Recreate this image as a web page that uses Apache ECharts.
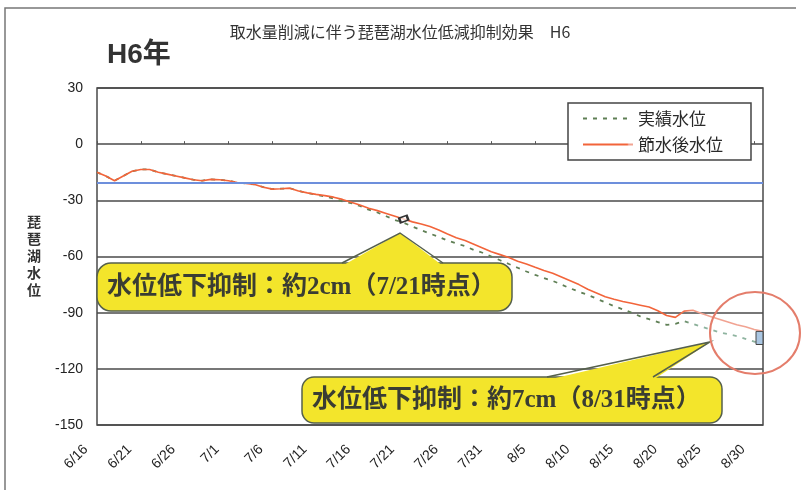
<!DOCTYPE html>
<html>
<head>
<meta charset="utf-8">
<script src="https://cdn.jsdelivr.net/npm/echarts@6/dist/echarts.min.js"></script>
<style>
  html, body { margin: 0; padding: 0; background: #fff; }
  #chart { width: 801px; height: 490px; }
</style>
</head>
<body>
<div id="chart"></div>
<script>
// Daily dates, 6/16 to 8/31 (H6)
const dates = [
  '6/16','6/17','6/18','6/19','6/20','6/21','6/22','6/23','6/24','6/25','6/26','6/27','6/28','6/29','6/30',
  '7/1','7/2','7/3','7/4','7/5','7/6','7/7','7/8','7/9','7/10','7/11','7/12','7/13','7/14','7/15','7/16',
  '7/17','7/18','7/19','7/20','7/21','7/22','7/23','7/24','7/25','7/26','7/27','7/28','7/29','7/30','7/31',
  '8/1','8/2','8/3','8/4','8/5','8/6','8/7','8/8','8/9','8/10','8/11','8/12','8/13','8/14','8/15','8/16',
  '8/17','8/18','8/19','8/20','8/21','8/22','8/23','8/24','8/25','8/26','8/27','8/28','8/29','8/30','8/31'
];

// 実績水位 (cm)
const actualLevel = [
  -15, -17, -19.5, -17, -14.5, -13.5, -13.5, -15, -16, -17,
  -18, -19, -19.5, -18.8, -19, -19.5, -20.5, -21, -21.5, -23,
  -24, -23.8, -23.5, -25, -26, -27, -28, -29, -30.5, -31.5,
  -33, -35, -36.5, -38.5, -40.5, -42, -44, -46, -47.8, -49.5,
  -51.5, -53, -54.5, -56.5, -58, -60, -62, -64, -66, -68,
  -69.8, -71.5, -73, -75, -77, -78.8, -80.5, -82.5, -84.5, -86.5,
  -88.2, -90, -92, -93.5, -95, -96.5, -96, -94.5, -96, -97.5,
  -99, -100.5, -101.5, -102.5, -104, -105.5, -107
];

// 節水後水位 (cm)
const savedLevel = [
  -15, -17, -19.5, -17, -14.5, -13.5, -13.5, -15, -16, -17,
  -18, -19, -19.5, -18.8, -19, -19.5, -20.5, -21, -21.5, -23,
  -24, -23.8, -23.5, -25, -26, -26.8, -27.5, -28.3, -29.5, -31,
  -32.5, -34.2, -35.5, -37, -38.5, -40, -41.5, -42.6, -44, -45.8,
  -48, -50, -51.5, -53.5, -55.5, -57.5, -59, -60.5, -62.5, -64,
  -65.8, -67.5, -69, -71, -73, -75, -77.5, -79.5, -81.5, -82.8,
  -84, -85, -86, -87, -89, -91.5, -92.5, -89.2, -88.7, -90.5,
  -92, -93.5, -95, -96.5, -97.5, -99, -100
];

// Reference water level line (blue)
const baseLevel = -20.5;

// Y axis range
const yMin = -150, yMax = 30, yStep = 30;

// Every 5th day gets a date label
const labelEvery = 5;

const lastIdx = dates.length - 1;
const markIdx = dates.indexOf('7/21');

const CJK = '"Noto Sans CJK JP", "Noto Sans", sans-serif';
const CALLOUT_FONT = '"Liberation Serif", "Noto Sans CJK JP", serif';
const YELLOW = '#f3e52b';
const EDGE = '#55604c';

// Yellow speech-bubble annotation: rounded box + pointer
function callout(box, pointer, text, textPos) {
  return [
    {
      type: 'rect', z: 50,
      shape: { x: box.x, y: box.y, width: box.w, height: box.h, r: box.r },
      style: { fill: YELLOW, stroke: EDGE, lineWidth: 1.5 }
    },
    {
      type: 'polygon', z: 51,
      shape: { points: [[pointer.b1, box.y + 3], [pointer.ax, pointer.ay], [pointer.b2, box.y + 3]] },
      style: { fill: YELLOW }
    },
    {
      type: 'polyline', z: 52,
      shape: { points: [[pointer.b1, box.y], [pointer.ax, pointer.ay], [pointer.b2, box.y]] },
      style: { stroke: EDGE, lineWidth: 1.5, fill: null }
    },
    {
      type: 'text', z: 53,
      style: {
        x: textPos[0], y: textPos[1], text: text,
        font: 'bold 25px ' + CALLOUT_FONT,
        fill: '#3a3d33', textAlign: 'left', textVerticalAlign: 'middle'
      }
    }
  ];
}

// Fades a line toward a lighter tone near the end of the period
function fadedLine(base, light) {
  return new echarts.graphic.LinearGradient(0, 0, 1, 0, [
    { offset: 0, color: base },
    { offset: 0.87, color: base },
    { offset: 0.9, color: light },
    { offset: 1, color: light }
  ]);
}

const chart = echarts.init(document.getElementById('chart'), null, { renderer: 'canvas' });

chart.setOption({
  animation: false,
  backgroundColor: '#ffffff',
  grid: {
    left: 97, right: 38, top: 88, bottom: 65,
    show: true, borderColor: '#4a4a4a', borderWidth: 1.5, backgroundColor: 'transparent'
  },
  legend: {
    data: ['実績水位', '節水後水位'],
    orient: 'vertical',
    left: 568, top: 103,
    itemWidth: 50, itemHeight: 14, itemGap: 9,
    padding: [7, 28, 7, 14],
    backgroundColor: '#ffffff',
    borderColor: '#444', borderWidth: 1.5, borderRadius: 0,
    itemStyle: { color: 'rgba(0,0,0,0)', borderWidth: 0 },
    textStyle: { fontFamily: CJK, fontSize: 17, color: '#2a2a2a' }
  },
  xAxis: {
    type: 'category',
    data: dates,
    boundaryGap: false,
    axisLine: { show: false },
    axisTick: {
      show: true, inside: true, length: 3,
      interval: function (i) { return i % labelEvery === 0; },
      lineStyle: { color: '#555' }
    },
    splitLine: { show: false },
    axisLabel: {
      interval: function (i) { return i % labelEvery === 0; },
      rotate: 45,
      margin: 11,
      padding: [0, 16, 0, 0],
      fontFamily: '"Liberation Sans", Arial, sans-serif',
      fontSize: 14,
      color: '#222'
    }
  },
  yAxis: {
    type: 'value',
    min: yMin, max: yMax, interval: yStep,
    axisLine: { show: false },
    axisTick: { show: false },
    axisLabel: {
      margin: 14,
      fontFamily: '"Liberation Sans", Arial, sans-serif',
      fontSize: 14, color: '#222'
    },
    splitLine: { show: true, lineStyle: { color: '#4a4a4a', width: 1.5 } }
  },
  series: [
    {
      name: '実績水位',
      type: 'line',
      data: actualLevel,
      symbol: 'none',
      z: 3,
      lineStyle: { color: fadedLine('#5f7f55', '#8fb4a0'), width: 1.8, type: [4, 6] },
      itemStyle: { color: 'rgba(0,0,0,0)', borderWidth: 0 },
      markLine: {
        silent: true,
        symbol: 'none',
        label: { show: false },
        lineStyle: { color: '#6d8fdc', width: 2, type: 'solid' },
        data: [{ yAxis: baseLevel }]
      }
    },
    {
      name: '節水後水位',
      type: 'line',
      data: savedLevel,
      symbol: 'none',
      z: 4,
      lineStyle: { color: fadedLine('#f2643a', '#f1a392'), width: 1.6 },
      itemStyle: { color: 'rgba(0,0,0,0)', borderWidth: 0 },
      markPoint: {
        silent: true,
        symbol: 'rect',
        symbolSize: [8, 5],
        symbolRotate: 20,
        label: { show: false },
        itemStyle: { color: 'rgba(255,255,255,0.7)', borderColor: '#333', borderWidth: 2 },
        data: [{ coord: [dates[markIdx], savedLevel[markIdx]] }]
      }
    },
    {
      // Gap between the two levels on the last day
      name: 'gap',
      type: 'custom',
      z: 5,
      silent: true,
      data: [[lastIdx, savedLevel[lastIdx], actualLevel[lastIdx]]],
      renderItem: function (params, api) {
        const top = api.coord([api.value(0), api.value(1)]);
        const bot = api.coord([api.value(0), api.value(2)]);
        return {
          type: 'rect',
          shape: { x: top[0] - 7, y: top[1], width: 7, height: bot[1] - top[1] },
          style: { fill: '#aac6e2', stroke: '#444', lineWidth: 1 }
        };
      }
    }
  ],
  graphic: [
    // outer frame
    {
      type: 'polyline', z: 1,
      shape: { points: [[5, 490], [5, 8], [796, 8]] },
      style: { stroke: '#777', lineWidth: 1.5, fill: null }
    },
    {
      type: 'text', z: 10,
      style: {
        x: 400, y: 32, text: '取水量削減に伴う琵琶湖水位低減抑制効果　H6',
        font: '16px ' + CJK, fill: '#333', textAlign: 'center', textVerticalAlign: 'middle'
      }
    },
    {
      type: 'text', z: 10,
      style: {
        x: 107, y: 55, text: 'H6年',
        font: 'bold 28px "Liberation Sans", "Noto Sans CJK JP", sans-serif',
        fill: '#333', textAlign: 'left', textVerticalAlign: 'middle'
      }
    },
    {
      type: 'text', z: 10,
      style: {
        x: 34, y: 256, text: '琵\n琶\n湖\n水\n位',
        font: 'bold 14px ' + CJK, lineHeight: 17,
        fill: '#333', textAlign: 'center', textVerticalAlign: 'middle'
      }
    },
    ...callout(
      { x: 97, y: 263, w: 415, h: 48, r: 14 },
      { b1: 342, b2: 443, ax: 400, ay: 233 },
      '水位低下抑制：約2cm（7/21時点）', [107, 288]
    ),
    ...callout(
      { x: 302, y: 377, w: 420, h: 46, r: 12 },
      { b1: 547, b2: 653, ax: 710, ay: 342 },
      '水位低下抑制：約7cm（8/31時点）', [312, 401]
    ),
    {
      type: 'ellipse', z: 60,
      shape: { cx: 755, cy: 333, rx: 45, ry: 41 },
      style: { stroke: '#e47d6b', lineWidth: 2, fill: null }
    }
  ]
});
</script>
</body>
</html>
